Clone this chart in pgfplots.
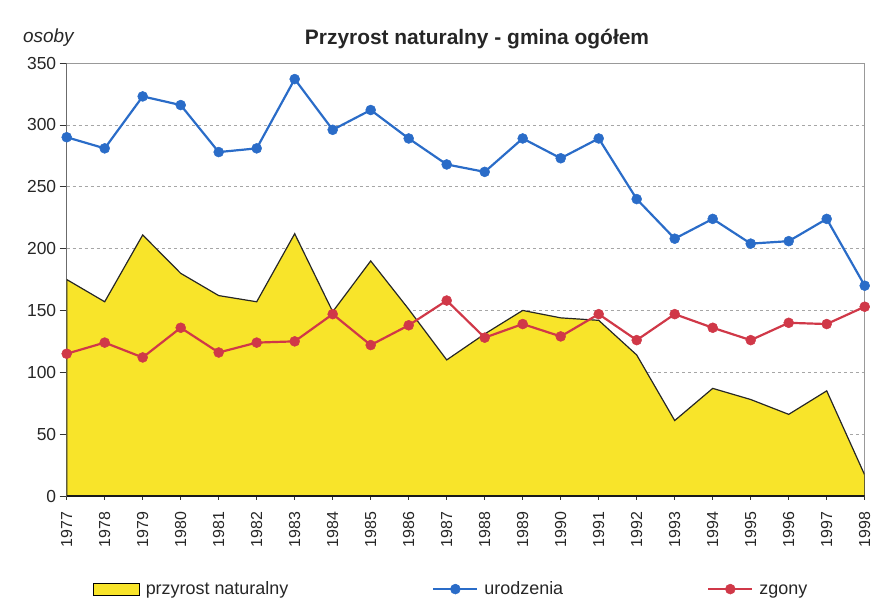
\documentclass[border=0pt]{standalone}
\usepackage{pgfplots}
\pgfplotsset{compat=1.18}
\usepackage{fontspec}
\setmainfont{Liberation Sans}
\definecolor{myyellow}{RGB}{248,228,42}
\definecolor{myblue}{RGB}{42,108,200}
\definecolor{myred}{RGB}{208,56,72}
\pgfplotsset{
  lineleg/.style={legend image code/.code={\draw[##1, mark repeat=2, mark phase=2] plot coordinates {(0bp,0bp) (22bp,0bp) (44bp,0bp)};}},
  boxleg/.style={legend image code/.code={\draw[fill=myyellow, draw=black, line width=1pt] (0bp,-6bp) rectangle (46bp,6bp);}},
}
\begin{document}
\begin{tikzpicture}[x=1bp,y=1bp]
\useasboundingbox (0,0) rectangle (878,-608);
\begin{axis}[
  at={(66.7bp,-496bp)}, anchor=south west,
  scale only axis, width=798bp, height=433bp,
  xmin=1977, xmax=1998, ymin=0, ymax=350,
  xtick={1977,...,1998}, ytick={0,50,...,350},
  tick pos=left,
  /pgf/number format/assume math mode=true,
  /pgf/number format/1000 sep={},
  x tick label style={rotate=90, anchor=east, font=\fontsize{16}{17}\selectfont, text=black!85},
  xticklabel shift=9bp,
  y tick label style={font=\fontsize{17.5}{18}\selectfont, text=black!85},
  xtick align=center, ytick align=outside,
  major tick length=7bp,
  tick style={black!80, line width=0.7pt},
  ymajorgrids, grid style={dashed, gray!70, line width=0.7pt},
  axis line style={gray!80, line width=0.9pt},
  legend columns=3,
  legend style={at={(0.4816,-0.215)}, anchor=center, draw=none, fill=none,
    font=\fontsize{18}{19}\selectfont, text=black!85,
    /tikz/every odd column/.append style={column sep=4bp},
    /tikz/every even column/.append style={column sep=142bp}},
]
\addplot[fill=myyellow, draw=black!85, line width=1.2pt, boxleg]
 coordinates {(1977,175)(1978,157)(1979,211)(1980,180)(1981,162)(1982,157)(1983,212)(1984,149)(1985,190)(1986,151)(1987,110)(1988,131)(1989,150)(1990,144)(1991,142)(1992,114)(1993,61)(1994,87)(1995,78)(1996,66)(1997,85)(1998,17)} \closedcycle;
\addlegendentry{przyrost naturalny\strut}
\addplot[myblue, line width=2.2pt, mark=*, mark size=5pt, mark options={fill=myblue, draw=myblue, line width=0.5pt}, lineleg]
 coordinates {(1977,290)(1978,281)(1979,323)(1980,316)(1981,278)(1982,281)(1983,337)(1984,296)(1985,312)(1986,289)(1987,268)(1988,262)(1989,289)(1990,273)(1991,289)(1992,240)(1993,208)(1994,224)(1995,204)(1996,206)(1997,224)(1998,170)};
\addlegendentry{urodzenia\strut}
\addplot[myred, line width=2.2pt, mark=*, mark size=5pt, mark options={fill=myred, draw=myred, line width=0.5pt}, lineleg]
 coordinates {(1977,115)(1978,124)(1979,112)(1980,136)(1981,116)(1982,124)(1983,125)(1984,147)(1985,122)(1986,138)(1987,158)(1988,128)(1989,139)(1990,129)(1991,147)(1992,126)(1993,147)(1994,136)(1995,126)(1996,140)(1997,139)(1998,153)};
\addlegendentry{zgony\strut}
\draw[black!90, line width=1.5pt] (rel axis cs:0,1) -- (rel axis cs:0,0) -- (rel axis cs:1,0);
\end{axis}
\node[anchor=base, font=\fontsize{21}{22}\selectfont\bfseries, text=black!85] at (477,-45) {Przyrost naturalny - gmina ogółem};
\node[anchor=base west, font=\fontsize{19}{20}\selectfont\itshape, text=black!85, inner sep=0pt] at (23,-43) {osoby};
\end{tikzpicture}
\end{document}
